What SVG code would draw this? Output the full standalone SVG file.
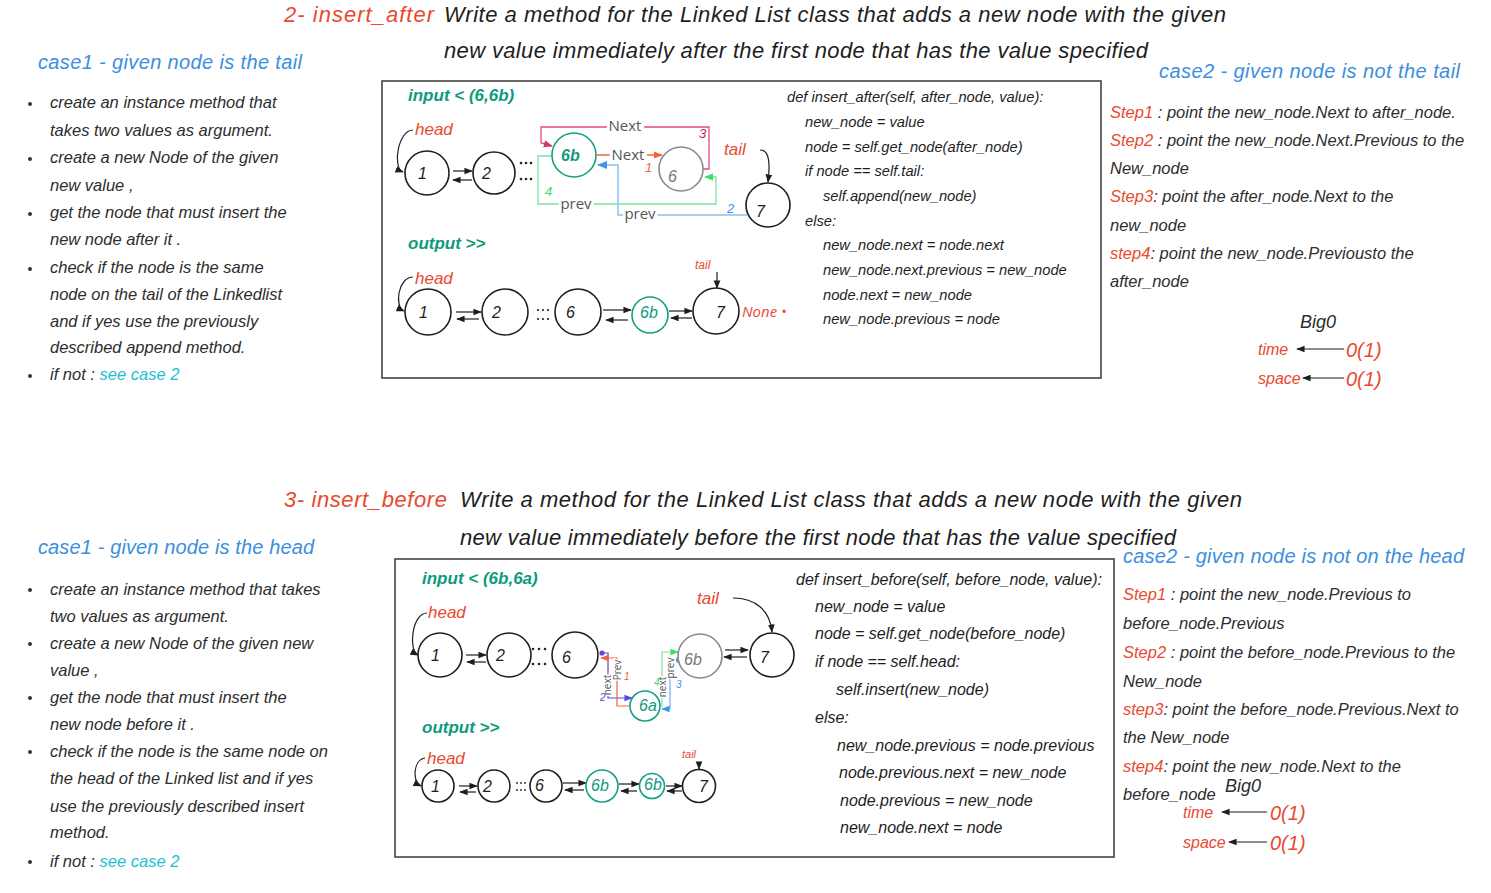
<svg xmlns="http://www.w3.org/2000/svg" width="1491" height="893" viewBox="0 0 1491 893">
<style>
.hw{font-family:"Liberation Sans",Arial,sans-serif;font-style:italic}
.dk{fill:#2d2d2d}
.rd{fill:#e8492f}
.bl{fill:#3a8fde}
.tl{fill:#0e9a7c;font-weight:bold}
.cy{fill:#22bfd2}
.t16{font-size:16.5px}
.code{font-size:14.7px}
.code2{font-size:16px}
.lbl{font-family:"Open Sans","Liberation Sans",sans-serif;fill:#555;stroke:#fff;stroke-width:6px;paint-order:stroke}
.nd{fill:#fff;stroke:#1e1e1e;stroke-width:1.6}
.ng{fill:#fff;stroke:#8a8a8a;stroke-width:1.6}
.nt{fill:#fff;stroke:#13a085;stroke-width:1.6}
.num{font-family:"Liberation Sans",sans-serif;font-style:italic;font-size:16px;fill:#1e1e1e}
.ar{fill:none;stroke:#1e1e1e;stroke-width:1.2}
.box{fill:#fff;stroke:#444;stroke-width:1.6}
</style>
<defs>
<marker id="mk" viewBox="0 0 10 10" refX="9" refY="5" markerWidth="7" markerHeight="7" orient="auto"><path d="M0,1 L10,5 L0,9 z" fill="#1e1e1e"/></marker>
<marker id="mpk" viewBox="0 0 10 10" refX="9" refY="5" markerWidth="7" markerHeight="7" orient="auto"><path d="M0,1 L10,5 L0,9 z" fill="#d6336c"/></marker>
<marker id="mor" viewBox="0 0 10 10" refX="9" refY="5" markerWidth="7" markerHeight="7" orient="auto"><path d="M0,1 L10,5 L0,9 z" fill="#f0643c"/></marker>
<marker id="mgr" viewBox="0 0 10 10" refX="9" refY="5" markerWidth="7" markerHeight="7" orient="auto"><path d="M0,1 L10,5 L0,9 z" fill="#3ddc6e"/></marker>
<marker id="mbl" viewBox="0 0 10 10" refX="9" refY="5" markerWidth="7" markerHeight="7" orient="auto"><path d="M0,1 L10,5 L0,9 z" fill="#3a95e8"/></marker>
<marker id="mpu" viewBox="0 0 10 10" refX="9" refY="5" markerWidth="7" markerHeight="7" orient="auto"><path d="M0,1 L10,5 L0,9 z" fill="#6741d9"/></marker>
</defs>
<rect width="1491" height="893" fill="#fff"/>

<!-- Titles -->
<g id="title1" class="hw" font-size="22">
<text x="284" y="22" class="rd" textLength="150">2- insert_after</text>
<text x="444" y="22" fill="#1e1e1e" textLength="782">Write a method for the Linked List class that adds a new node with the given</text>
<text x="444" y="58" fill="#1e1e1e" textLength="704">new value immediately after the first node that has the value specified</text>
</g>
<g id="title2" class="hw" font-size="22">
<text x="284" y="507" class="rd" textLength="163">3- insert_before</text>
<text x="460" y="507" fill="#1e1e1e" textLength="782">Write a method for the Linked List class that adds a new node with the given</text>
<text x="460" y="545" fill="#1e1e1e" textLength="716">new value immediately before the first node that has the value specified</text>
</g>

<!-- Top left text -->
<g id="case1-after" class="hw t16">
<text x="38" y="69" class="bl" font-size="20" textLength="264">case1 - given node is the tail</text>
<g class="dk">
<circle cx="30" cy="104" r="2" fill="#333"/><text x="50" y="108">create an instance method that</text>
<text x="50" y="136">takes two values as argument.</text>
<circle cx="30" cy="159" r="2" fill="#333"/><text x="50" y="163">create a new Node of the given</text>
<text x="50" y="191">new value ,</text>
<circle cx="30" cy="214" r="2" fill="#333"/><text x="50" y="218">get the node that must insert the</text>
<text x="50" y="245">new node after it .</text>
<circle cx="30" cy="269" r="2" fill="#333"/><text x="50" y="273">check if the node is the same</text>
<text x="50" y="300">node on the tail of the Linkedlist</text>
<text x="50" y="327">and if yes use the previously</text>
<text x="50" y="353">described append method.</text>
<circle cx="30" cy="376" r="2" fill="#333"/><text x="50" y="380">if not : <tspan class="cy">see case 2</tspan></text>
</g>
</g>

<!-- Top box -->
<rect id="box-after" class="box" x="382" y="81" width="719" height="297"/>

<g id="labels-after" class="hw">
<text x="408" y="101" class="tl" font-size="17">input &lt; (6,6b)</text>
<text x="408" y="249" class="tl" font-size="17">output &gt;&gt;</text>
<text x="415" y="135" class="rd" font-size="17">head</text>
<text x="724" y="155" class="rd" font-size="17">tail</text>
<text x="415" y="284" class="rd" font-size="17">head</text>
<text x="695" y="269" class="rd" font-size="12">tail</text>
<text x="742" y="317" font-family="Open Sans, sans-serif" font-size="15" fill="#e8492f">None •</text>
</g>

<!-- connectors top -->
<g id="connectors-after">
<path class="ar" d="M413,130 C398,130 392,168 403,172" marker-end="url(#mk)"/>
<path class="ar" d="M760,150 C770,150 770,165 768,182" marker-end="url(#mk)"/>
<path class="ar" d="M453,171 H472" marker-end="url(#mk)"/>
<path class="ar" d="M472,180 H453" marker-end="url(#mk)"/>
<g fill="#222"><circle cx="521" cy="163" r="1.3"/><circle cx="526" cy="163" r="1.3"/><circle cx="531" cy="163" r="1.3"/><circle cx="521" cy="179" r="1.3"/><circle cx="526" cy="179" r="1.3"/><circle cx="531" cy="179" r="1.3"/></g>
<path d="M703,169 H709 V127 H541 V143 L552,146" fill="none" stroke="#e64980" stroke-width="1.3" marker-end="url(#mpk)"/>
<path d="M597,155 H662" fill="none" stroke="#f0643c" stroke-width="1.3" marker-end="url(#mor)"/>
<path d="M552,156 H538 V204 H716 V177 H705" fill="none" stroke="#7ee2a4" stroke-width="1.3" marker-end="url(#mgr)"/>
<path d="M747,215 H618 V165 H598" fill="none" stroke="#8cc2ee" stroke-width="1.5" marker-end="url(#mbl)"/>
<text x="625" y="131" class="lbl" font-size="15" text-anchor="middle">Next</text>
<text x="628" y="160" class="lbl" font-size="15" text-anchor="middle">Next</text>
<text x="699" y="138" class="hw" font-size="13" fill="#c2255c">3</text>
<text x="645" y="172" class="hw" font-size="13" fill="#f0643c">1</text>
<text x="576" y="209" class="lbl" font-size="15" text-anchor="middle">prev</text>
<text x="640" y="219" class="lbl" font-size="15" text-anchor="middle">prev</text>
<text x="545" y="196" class="hw" font-size="13" fill="#3ddc6e">4</text>
<text x="727" y="213" class="hw" font-size="13" fill="#3a95e8">2</text>
<!-- output arrows -->
<path class="ar" d="M413,277 C398,277 394,307 404,311" marker-end="url(#mk)"/>
<path class="ar" d="M717,272 V288" marker-end="url(#mk)"/>
<path class="ar" d="M456,312 H481" marker-end="url(#mk)"/>
<path class="ar" d="M479,319 H457" marker-end="url(#mk)"/>
<path class="ar" d="M603,310 H631" marker-end="url(#mk)"/>
<path class="ar" d="M628,320 H606" marker-end="url(#mk)"/>
<path class="ar" d="M669,311 H692" marker-end="url(#mk)"/>
<path class="ar" d="M692,318 H671" marker-end="url(#mk)"/>
<g fill="#222"><circle cx="538" cy="310" r="1.1"/><circle cx="543" cy="310" r="1.1"/><circle cx="548" cy="310" r="1.1"/><circle cx="538" cy="319" r="1.1"/><circle cx="543" cy="319" r="1.1"/><circle cx="548" cy="319" r="1.1"/></g>
</g>

<!-- nodes top input -->
<g id="a-n1"><circle class="nd" cx="427" cy="173" r="22"/><text class="num" x="418" y="179">1</text></g>
<g id="a-n2"><circle class="nd" cx="494" cy="173" r="21"/><text class="num" x="482" y="179">2</text></g>
<g id="a-n6b"><circle class="nt" cx="574" cy="155" r="22"/><text class="num" x="561" y="161" font-weight="bold" style="fill:#0e9a7c">6b</text></g>
<g id="a-n6"><circle class="ng" cx="681" cy="169" r="22"/><text class="num" x="668" y="182" style="fill:#777">6</text></g>
<g id="a-n7"><circle class="nd" cx="768" cy="205" r="22"/><text class="num" x="756" y="217">7</text></g>
<!-- nodes top output -->
<g id="a-o1"><circle class="nd" cx="428" cy="312" r="23"/><text class="num" x="419" y="318">1</text></g>
<g id="a-o2"><circle class="nd" cx="505" cy="312" r="23"/><text class="num" x="492" y="318">2</text></g>
<g id="a-o6"><circle class="nd" cx="578" cy="312" r="23"/><text class="num" x="566" y="318">6</text></g>
<g id="a-o6b"><circle class="nt" cx="650" cy="315" r="18"/><text class="num" x="640" y="318" font-size="14" style="fill:#0e9a7c">6b</text></g>
<g id="a-o7"><circle class="nd" cx="716" cy="311" r="23"/><text class="num" x="716" y="318">7</text></g>

<!-- code top -->
<g id="code-after" class="hw code" fill="#1e1e1e">
<text x="787" y="102">def insert_after(self, after_node, value):</text>
<text x="805" y="127">new_node = value</text>
<text x="805" y="152">node = self.get_node(after_node)</text>
<text x="805" y="176">if node == self.tail:</text>
<text x="823" y="201">self.append(new_node)</text>
<text x="805" y="226">else:</text>
<text x="823" y="250">new_node.next = node.next</text>
<text x="823" y="275">new_node.next.previous = new_node</text>
<text x="823" y="300">node.next = new_node</text>
<text x="823" y="324">new_node.previous = node</text>
</g>

<!-- right top -->
<g id="case2-after" class="hw t16" fill="#2d2d2d">
<text x="1159" y="78" class="bl" font-size="20" textLength="301">case2 - given node is not the tail</text>
<text x="1110" y="118"><tspan class="rd">Step1</tspan> : point the new_node.Next to after_node.</text>
<text x="1110" y="146"><tspan class="rd">Step2</tspan> : point the new_node.Next.Previous to the</text>
<text x="1110" y="174">New_node</text>
<text x="1110" y="202"><tspan class="rd">Step3</tspan>: point the after_node.Next to the</text>
<text x="1110" y="231">new_node</text>
<text x="1110" y="259"><tspan class="rd">step4</tspan>: point the new_node.Previousto the</text>
<text x="1110" y="287">after_node</text>
</g>
<g id="bigo-after" class="hw">
<text x="1300" y="328" font-size="18" fill="#2d2d2d">Big0</text>
<text x="1258" y="355" font-size="16" class="rd">time</text>
<text x="1346" y="357" font-size="20" class="rd">0(1)</text>
<text x="1258" y="384" font-size="16" class="rd">space</text>
<text x="1346" y="386" font-size="20" class="rd">0(1)</text>
<path class="ar" d="M1344,349 H1297" marker-end="url(#mk)"/>
<path class="ar" d="M1344,378 H1303" marker-end="url(#mk)"/>
</g>

<!-- Bottom left text -->
<g id="case1-before" class="hw t16">
<text x="38" y="554" class="bl" font-size="20" textLength="276">case1 - given node is the head</text>
<g class="dk">
<circle cx="30" cy="590" r="2" fill="#333"/><text x="50" y="595">create an instance method that takes</text>
<text x="50" y="622">two values as argument.</text>
<circle cx="30" cy="644" r="2" fill="#333"/><text x="50" y="649">create a new Node of the given new</text>
<text x="50" y="676">value ,</text>
<circle cx="30" cy="698" r="2" fill="#333"/><text x="50" y="703">get the node that must insert the</text>
<text x="50" y="730">new node before it .</text>
<circle cx="30" cy="752" r="2" fill="#333"/><text x="50" y="757">check if the node is the same node on</text>
<text x="50" y="784">the head of the Linked list and if yes</text>
<text x="50" y="812">use the previously described insert</text>
<text x="50" y="838">method.</text>
<circle cx="30" cy="862" r="2" fill="#333"/><text x="50" y="867">if not : <tspan class="cy">see case 2</tspan></text>
</g>
</g>

<!-- Bottom box -->
<rect id="box-before" class="box" x="395" y="559" width="719" height="298"/>

<g id="labels-before" class="hw">
<text x="422" y="584" class="tl" font-size="17">input &lt; (6b,6a)</text>
<text x="422" y="733" class="tl" font-size="17">output &gt;&gt;</text>
<text x="428" y="618" class="rd" font-size="17">head</text>
<text x="697" y="604" class="rd" font-size="17">tail</text>
<text x="427" y="764" class="rd" font-size="17">head</text>
<text x="682" y="758" class="rd" font-size="11">tail</text>
</g>

<g id="connectors-before">
<path class="ar" d="M427,613 C412,613 408,650 418,655" marker-end="url(#mk)"/>
<path class="ar" d="M733,598 C755,598 770,610 772,632" marker-end="url(#mk)"/>
<path class="ar" d="M466,655 H486" marker-end="url(#mk)"/>
<path class="ar" d="M486,662 H467" marker-end="url(#mk)"/>
<path class="ar" d="M725,650 H748" marker-end="url(#mk)"/>
<path class="ar" d="M747,657 H724" marker-end="url(#mk)"/>
<g fill="#222"><circle cx="533" cy="649" r="1.3"/><circle cx="539" cy="649" r="1.3"/><circle cx="545" cy="649" r="1.3"/><circle cx="533" cy="664" r="1.3"/><circle cx="539" cy="664" r="1.3"/><circle cx="545" cy="664" r="1.3"/></g>
<path d="M602,653 H608 V698 H632" fill="none" stroke="#6741d9" stroke-width="1.2" marker-end="url(#mpu)"/>
<path d="M633,706 H617 V658 H601" fill="none" stroke="#f0643c" stroke-width="1.2" marker-end="url(#mor)"/>
<path d="M662,707 V652 H678" fill="none" stroke="#7ee2a4" stroke-width="1.2" marker-end="url(#mgr)"/>
<path d="M679,660 H670 V709 H662" fill="none" stroke="#6fb2ee" stroke-width="1.2" marker-end="url(#mbl)"/>
<text transform="translate(611,685) rotate(-90)" class="lbl" font-size="10" text-anchor="middle" style="stroke-width:3px">next</text>
<text transform="translate(621,670) rotate(-90)" class="lbl" font-size="10" text-anchor="middle" style="stroke-width:3px">Prev</text>
<text transform="translate(666,687) rotate(-90)" class="lbl" font-size="10" text-anchor="middle" style="stroke-width:3px">next</text>
<text transform="translate(674,668) rotate(-90)" class="lbl" font-size="10" text-anchor="middle" style="stroke-width:3px">prev</text>
<text x="600" y="701" class="hw" font-size="10" fill="#6741d9">2</text>
<text x="624" y="680" class="hw" font-size="10" fill="#f0643c">1</text>
<text x="654" y="686" class="hw" font-size="10" fill="#3ddc6e">4</text>
<text x="676" y="688" class="hw" font-size="10" fill="#3a95e8">3</text>
<circle cx="602" cy="653" r="2.6" fill="#6741d9"/>
<circle cx="633" cy="706" r="3" fill="#f03e3e"/>
<circle cx="679" cy="660" r="3" fill="#3a95e8"/>
<!-- output -->
<path class="ar" d="M425,758 C413,760 412,782 421,786" marker-end="url(#mk)"/>
<path class="ar" d="M699,762 V769" marker-end="url(#mk)"/>
<path class="ar" d="M459,786 H477" marker-end="url(#mk)"/>
<path class="ar" d="M476,792 H460" marker-end="url(#mk)"/>
<path class="ar" d="M563,783 H586" marker-end="url(#mk)"/>
<path class="ar" d="M584,790 H565" marker-end="url(#mk)"/>
<path class="ar" d="M619,784 H639" marker-end="url(#mk)"/>
<path class="ar" d="M637,791 H621" marker-end="url(#mk)"/>
<path class="ar" d="M666,786 H682" marker-end="url(#mk)"/>
<path class="ar" d="M682,791 H667" marker-end="url(#mk)"/>
<g fill="#222"><circle cx="517" cy="783" r="0.9"/><circle cx="521" cy="783" r="0.9"/><circle cx="525" cy="783" r="0.9"/><circle cx="517" cy="790" r="0.9"/><circle cx="521" cy="790" r="0.9"/><circle cx="525" cy="790" r="0.9"/></g>
</g>

<!-- nodes bottom input -->
<g id="b-n1"><circle class="nd" cx="440" cy="655" r="22"/><text class="num" x="431" y="661">1</text></g>
<g id="b-n2"><circle class="nd" cx="509" cy="655" r="22"/><text class="num" x="496" y="661">2</text></g>
<g id="b-n6"><circle class="nd" cx="575" cy="655" r="23"/><text class="num" x="562" y="663">6</text></g>
<g id="b-n6b"><circle class="ng" cx="700" cy="656" r="22"/><text class="num" x="684" y="665" style="fill:#777">6b</text></g>
<g id="b-n7"><circle class="nd" cx="772" cy="655" r="22"/><text class="num" x="760" y="663">7</text></g>
<g id="b-n6a"><circle class="nt" cx="645" cy="706" r="15"/><text class="num" x="639" y="711" font-size="12" style="fill:#0e9a7c">6a</text></g>
<!-- nodes bottom output -->
<g id="b-o1"><circle class="nd" cx="438" cy="786" r="16"/><text class="num" x="431" y="792" font-size="14">1</text></g>
<g id="b-o2"><circle class="nd" cx="494" cy="786" r="16"/><text class="num" x="483" y="792" font-size="14">2</text></g>
<g id="b-o6"><circle class="nd" cx="546" cy="786" r="16"/><text class="num" x="535" y="791" font-size="14">6</text></g>
<g id="b-o6b"><circle class="nt" cx="602" cy="786" r="16"/><text class="num" x="591" y="791" font-size="14" style="fill:#0e9a7c">6b</text></g>
<g id="b-o6b2"><circle class="nt" cx="652" cy="786" r="12.5"/><text class="num" x="644" y="790" font-size="11" style="fill:#0e9a7c">6b</text></g>
<g id="b-o7"><circle class="nd" cx="699" cy="786" r="16.5"/><text class="num" x="699" y="792" font-size="14">7</text></g>

<!-- code bottom -->
<g id="code-before" class="hw code2" fill="#1e1e1e">
<text x="796" y="585">def insert_before(self, before_node, value):</text>
<text x="815" y="612">new_node = value</text>
<text x="815" y="639">node = self.get_node(before_node)</text>
<text x="815" y="667">if node == self.head:</text>
<text x="836" y="695">self.insert(new_node)</text>
<text x="815" y="723">else:</text>
<text x="837" y="751">new_node.previous = node.previous</text>
<text x="839" y="778">node.previous.next = new_node</text>
<text x="840" y="806">node.previous = new_node</text>
<text x="840" y="833">new_node.next = node</text>
</g>

<!-- right bottom -->
<g id="case2-before" class="hw t16" fill="#2d2d2d">
<text x="1123" y="563" class="bl" font-size="20" textLength="341">case2 - given node is not on the head</text>
<text x="1123" y="600"><tspan class="rd">Step1</tspan> : point the new_node.Previous to</text>
<text x="1123" y="629">before_node.Previous</text>
<text x="1123" y="658"><tspan class="rd">Step2</tspan> : point the before_node.Previous to the</text>
<text x="1123" y="687">New_node</text>
<text x="1123" y="715"><tspan class="rd">step3</tspan>: point the before_node.Previous.Next to</text>
<text x="1123" y="743">the New_node</text>
<text x="1123" y="772"><tspan class="rd">step4</tspan>: point the new_node.Next to the</text>
<text x="1123" y="800">before_node</text>
</g>
<g id="bigo-before" class="hw">
<text x="1225" y="792" font-size="18" fill="#2d2d2d">Big0</text>
<text x="1183" y="818" font-size="16" class="rd">time</text>
<text x="1270" y="820" font-size="20" class="rd">0(1)</text>
<text x="1183" y="848" font-size="16" class="rd">space</text>
<text x="1270" y="850" font-size="20" class="rd">0(1)</text>
<path class="ar" d="M1267,812 H1222" marker-end="url(#mk)"/>
<path class="ar" d="M1267,842 H1229" marker-end="url(#mk)"/>
</g>
</svg>
